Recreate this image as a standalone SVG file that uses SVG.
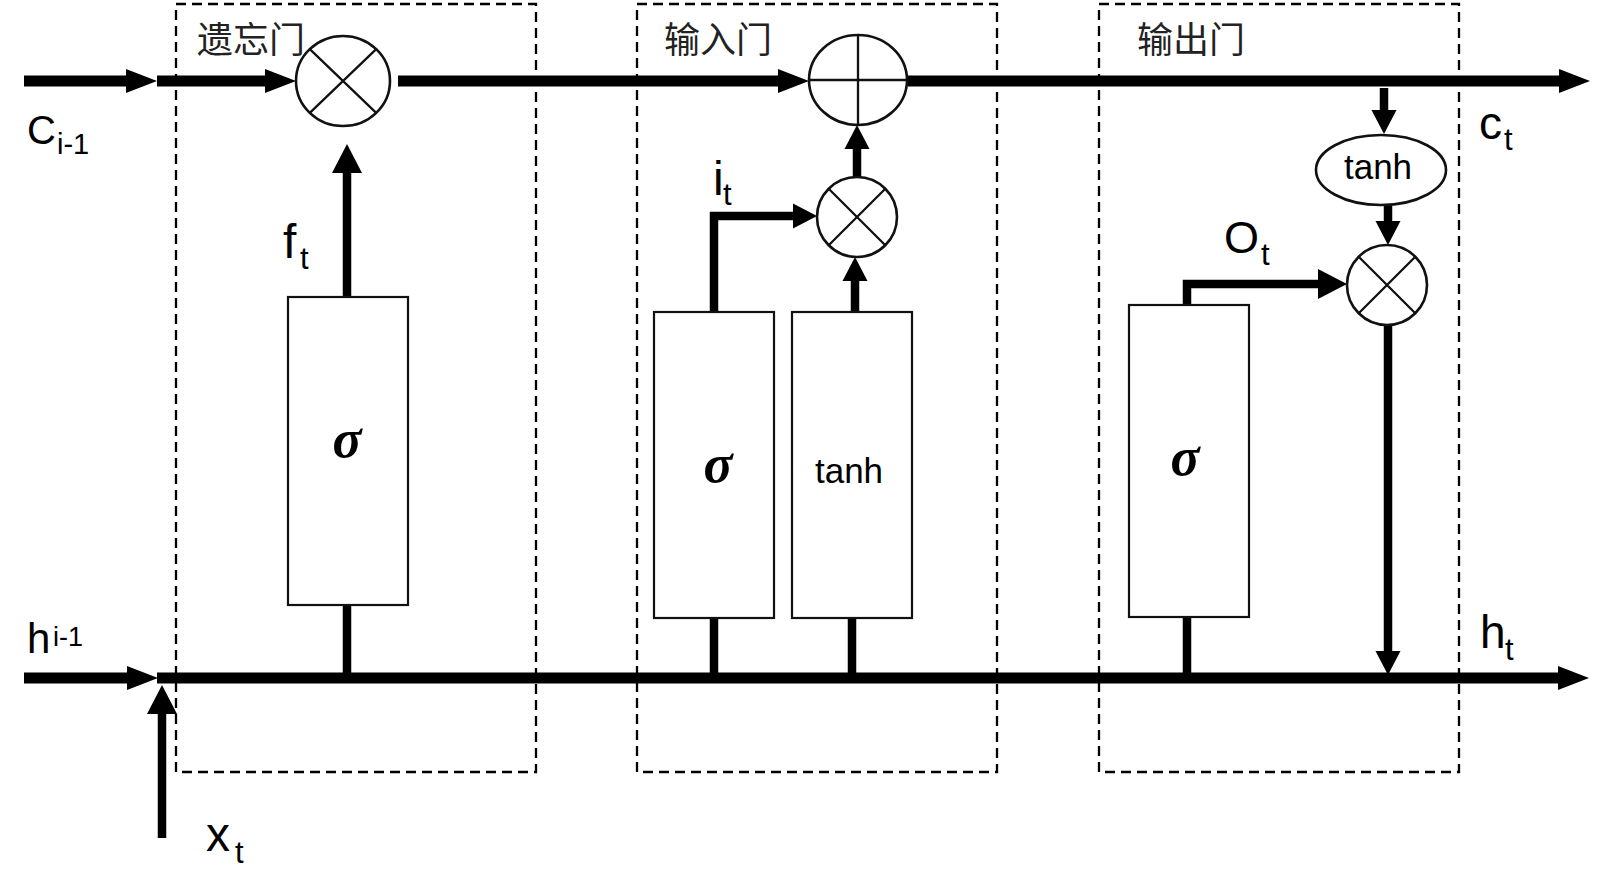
<svg xmlns="http://www.w3.org/2000/svg" width="1600" height="878" viewBox="0 0 1600 878">
<style>
.bg{fill:#fff}
.gate{fill:none;stroke:#000;stroke-width:2.3;stroke-dasharray:10 6}
.box{fill:#fff;stroke:#111;stroke-width:2.2}
.op{fill:#fff;stroke:#111;stroke-width:2.6}
.cross{stroke:#111;stroke-width:2.3;fill:none}
.thick{fill:none;stroke:#000;stroke-width:11}
.mid{fill:none;stroke:#000;stroke-width:8.5}
.lbl{font-family:"Liberation Sans",Arial,sans-serif;fill:#000}
.cn{font-family:"Noto Sans CJK SC","Noto Sans",sans-serif;font-size:36px;fill:#222}
.sig{font-family:"Liberation Serif","Times New Roman",serif;font-style:italic;font-weight:bold;font-size:54px;fill:#000;text-anchor:middle}
.fn{font-family:"Liberation Sans",Arial,sans-serif;font-size:35px;fill:#000;text-anchor:middle}
</style>
<defs>
<marker id="m1" markerUnits="userSpaceOnUse" viewBox="0 -15 40 30" markerWidth="40" markerHeight="30" refX="0" refY="0" orient="auto" overflow="visible">
<path d="M-1,-12 L30,0 L-1,12 Z" fill="#000"/>
</marker>
<marker id="m2" markerUnits="userSpaceOnUse" viewBox="0 -16 40 32" markerWidth="40" markerHeight="32" refX="0" refY="0" orient="auto" overflow="visible">
<path d="M-1,-15 L28,0 L-1,15 Z" fill="#000"/>
</marker>
<marker id="m3" markerUnits="userSpaceOnUse" viewBox="0 -14 30 28" markerWidth="30" markerHeight="28" refX="0" refY="0" orient="auto" overflow="visible">
<path d="M-1,-12.5 L23,0 L-1,12.5 Z" fill="#000"/>
</marker>
</defs>
<rect class="bg" x="0" y="0" width="1600" height="878"/>

<g id="gates">
<g id="forget-gate"><rect class="gate" x="176" y="4" width="360" height="768"/><text class="cn" x="197" y="53">遗忘门</text></g>
<g id="input-gate"><rect class="gate" x="637" y="4" width="360" height="768"/><text class="cn" x="664" y="53">输入门</text></g>
<g id="output-gate"><rect class="gate" x="1099" y="4" width="360" height="768"/><text class="cn" x="1137" y="53">输出门</text></g>
</g>

<g id="connectors">
<path class="thick" d="M24,81 H127" marker-end="url(#m1)"/>
<path class="thick" d="M157,81 H266" marker-end="url(#m1)"/>
<path class="thick" d="M398,81 H779" marker-end="url(#m1)"/>
<path class="thick" d="M908,81 H1560" marker-end="url(#m1)"/>
<path class="thick" d="M24,678 H128" marker-end="url(#m1)"/>
<path class="thick" d="M157,678 H1559" marker-end="url(#m1)"/>
<path class="mid" d="M162,838 V713" marker-end="url(#m2)"/>
<path class="mid" d="M347,297 V172" marker-end="url(#m2)"/>
<path class="mid" d="M347,605 V678"/>
<path class="mid" d="M714,312 V216 H794" marker-end="url(#m3)"/>
<path class="mid" d="M855,312 V280" marker-end="url(#m3)"/>
<path class="mid" d="M857,177 V148" marker-end="url(#m3)"/>
<path class="mid" d="M714,618 V678"/>
<path class="mid" d="M852,618 V678"/>
<path class="mid" d="M1384,88 V111" marker-end="url(#m3)"/>
<path class="mid" d="M1388,205 V222" marker-end="url(#m3)"/>
<path class="mid" d="M1187,306 V284 H1319" marker-end="url(#m2)"/>
<path class="mid" d="M1388,325 V652" marker-end="url(#m3)"/>
<path class="mid" d="M1187,617 V678"/>
</g>

<g id="forget-mul">
<ellipse class="op" cx="343" cy="81" rx="47" ry="45"/>
<path class="cross" d="M309.8,49.2 L376.2,112.8 M376.2,49.2 L309.8,112.8"/>
</g>
<g id="forget-sigma">
<rect class="box" x="288" y="297" width="120" height="308"/>
<text class="sig" x="347" y="457">σ</text>
</g>

<g id="add">
<ellipse class="op" cx="858" cy="80" rx="49" ry="45"/>
<path class="cross" d="M809,80 H907 M858,35 V125"/>
</g>
<g id="input-mul">
<circle class="op" cx="857" cy="217" r="40"/>
<path class="cross" d="M828.7,188.7 L885.3,245.3 M885.3,188.7 L828.7,245.3"/>
</g>
<g id="input-sigma">
<rect class="box" x="654" y="312" width="120" height="306"/>
<text class="sig" x="718" y="482">σ</text>
</g>
<g id="input-tanh">
<rect class="box" x="792" y="312" width="120" height="306"/>
<text class="fn" x="849" y="483">tanh</text>
</g>

<g id="output-tanh">
<ellipse class="op" cx="1381" cy="170" rx="65" ry="35"/>
<text class="fn" x="1378" y="179" font-size="34">tanh</text>
</g>
<g id="output-mul">
<circle class="op" cx="1387" cy="285" r="40"/>
<path class="cross" d="M1358.7,256.7 L1415.3,313.3 M1415.3,256.7 L1358.7,313.3"/>
</g>
<g id="output-sigma">
<rect class="box" x="1129" y="305" width="120" height="312"/>
<text class="sig" x="1185" y="475">σ</text>
</g>

<g id="labels">
<text class="lbl" x="27" y="144" font-size="40">C<tspan x="57" y="154" font-size="29">i-1</tspan></text>
<text class="lbl" x="27" y="653" font-size="42">h<tspan x="53" y="646" font-size="27">i-1</tspan></text>
<text class="lbl" x="283" y="258" font-size="48">f<tspan x="300" y="269" font-size="31">t</tspan></text>
<text class="lbl" x="713" y="195" font-size="48">i<tspan x="723" y="205" font-size="31">t</tspan></text>
<text class="lbl" x="1224" y="253" font-size="45">O<tspan x="1261" y="265" font-size="31">t</tspan></text>
<text class="lbl" x="1479" y="139" font-size="46">c<tspan x="1504" y="150" font-size="31">t</tspan></text>
<text class="lbl" x="1480" y="648" font-size="46">h<tspan x="1505" y="660" font-size="31">t</tspan></text>
<text class="lbl" x="206" y="851" font-size="48">x<tspan x="235" y="863" font-size="31">t</tspan></text>
</g>
</svg>
